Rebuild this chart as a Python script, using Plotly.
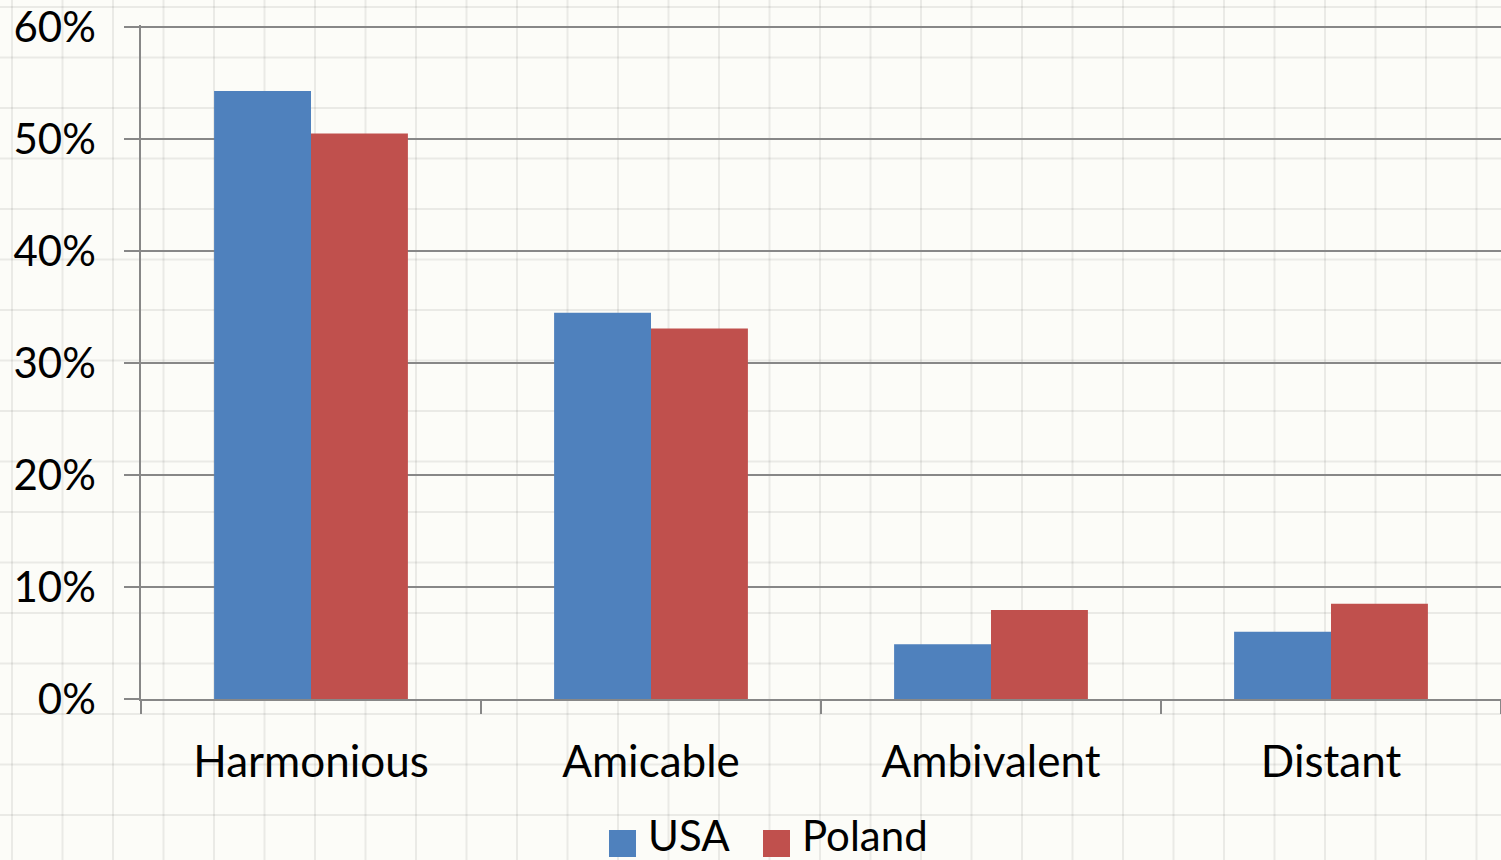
import plotly.graph_objects as go

# Survey data: share of respondents per relationship type
categories = ["Harmonious", "Amicable", "Ambivalent", "Distant"]
usa = [54.3, 34.5, 4.9, 6.0]
poland = [50.5, 33.1, 7.95, 8.5]
series_names = ["USA", "Poland"]
series_colors = ["#4F81BD", "#C0504D"]
y_ticks = [0, 10, 20, 30, 40, 50, 60]
y_tick_labels = ["0%", "10%", "20%", "30%", "40%", "50%", "60%"]

FONT = "Lato"
W, H = 1501, 860
ML, MR, MT, MB = 141, 0, 25, 161
PW, PH = W - ML - MR, H - MT - MB
AXIS_GREY = "#878787"
PAPER_BG = "#fcfcf8"


def px_to_paper_x(px):
    return (px - ML) / PW


def px_to_paper_y(py):
    return (H - MB - py) / PH


fig = go.Figure()
for name, vals, col in zip(series_names, [usa, poland], series_colors):
    fig.add_trace(go.Bar(
        name=name, x=categories, y=vals,
        marker=dict(color=col, line=dict(width=0)),
        showlegend=False,
    ))

shapes = []
# faint graph-paper texture behind the chart
step = 50.5
gx = 12.0
while gx < W:
    shapes.append(dict(type="line", xref="paper", yref="paper", layer="below",
                       x0=px_to_paper_x(gx), x1=px_to_paper_x(gx),
                       y0=px_to_paper_y(0), y1=px_to_paper_y(H),
                       line=dict(color="rgba(0,0,0,0.07)", width=2)))
    gx += step
gy = 7.0
while gy < H:
    shapes.append(dict(type="line", xref="paper", yref="paper", layer="below",
                       x0=px_to_paper_x(0), x1=px_to_paper_x(W),
                       y0=px_to_paper_y(gy), y1=px_to_paper_y(gy),
                       line=dict(color="rgba(0,0,0,0.07)", width=2)))
    gy += step

# legend drawn as swatches + labels
annotations = []
legend_items = [(609, 646), (763, 800)]
for (sx, tx), name, col in zip(legend_items, series_names, series_colors):
    shapes.append(dict(type="rect", xref="paper", yref="paper", layer="above",
                       x0=px_to_paper_x(sx), x1=px_to_paper_x(sx + 27),
                       y0=px_to_paper_y(857), y1=px_to_paper_y(830),
                       fillcolor=col, line=dict(width=0)))
    annotations.append(dict(xref="paper", yref="paper", x=px_to_paper_x(tx),
                            y=px_to_paper_y(835), xanchor="left", yanchor="middle",
                            text=name, showarrow=False,
                            font=dict(family=FONT, size=42, color="#000000")))

fig.update_layout(
    width=W, height=H,
    margin=dict(l=ML, r=MR, t=MT, b=MB, pad=0),
    paper_bgcolor=PAPER_BG,
    plot_bgcolor="rgba(0,0,0,0)",
    barmode="group",
    bargap=0.43,
    bargroupgap=0,
    font=dict(family=FONT, size=42, color="#000000"),
    shapes=shapes,
    annotations=annotations,
    xaxis=dict(
        showline=True, linecolor=AXIS_GREY, linewidth=1.5,
        ticks="outside", tickson="boundaries", ticklen=13,
        tickcolor=AXIS_GREY, tickwidth=1.5,
        showgrid=False, ticklabelstandoff=23,
        tickfont=dict(family=FONT, size=44),
    ),
    yaxis=dict(
        range=[0, 60.2],
        tickvals=y_ticks, ticktext=y_tick_labels,
        showline=True, linecolor=AXIS_GREY, linewidth=1.5,
        ticks="outside", ticklen=15, tickcolor=AXIS_GREY, tickwidth=1.5,
        showgrid=True, gridcolor=AXIS_GREY, gridwidth=1.5,
        zeroline=False, ticklabelstandoff=20,
        tickfont=dict(family=FONT, size=42),
    ),
)

fig.write_html("out.html")
